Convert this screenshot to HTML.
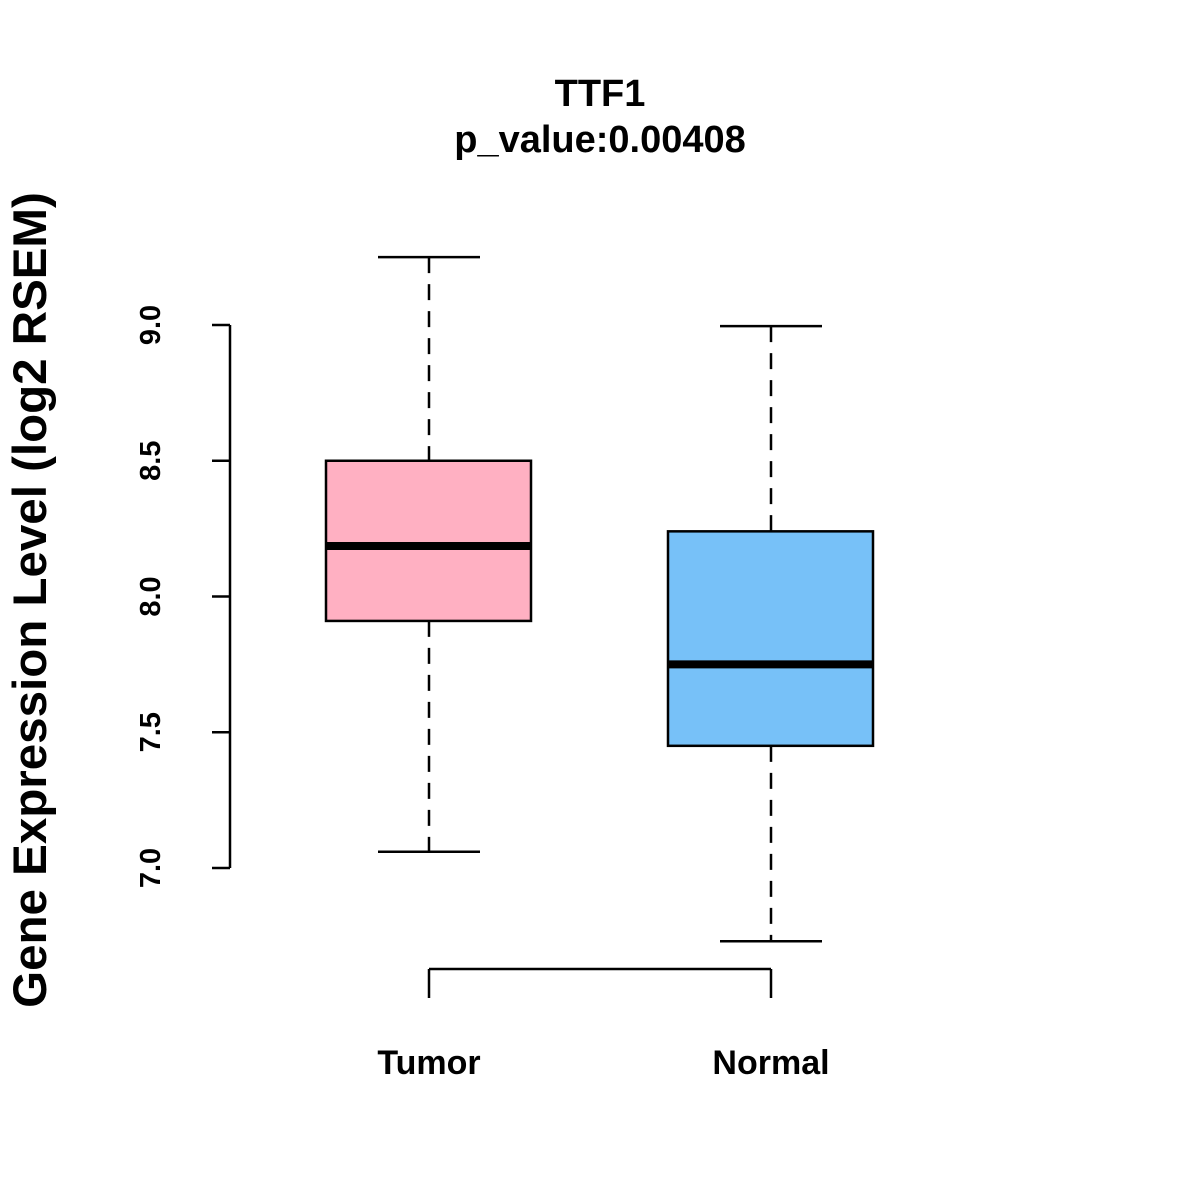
<!DOCTYPE html>
<html><head><meta charset="utf-8"><style>body{margin:0;background:#fff}svg{display:block}text{font-family:"Liberation Sans",Arial,sans-serif;font-weight:bold}</style></head>
<body>
<svg id="chart" width="1200" height="1200" viewBox="0 0 1200 1200">
<text x="600" y="106" font-size="38" text-anchor="middle">TTF1</text>
<text x="600" y="152" font-size="38" text-anchor="middle">p_value:0.00408</text>
<text transform="translate(46,600) rotate(-90)" font-size="47.5" text-anchor="middle">Gene Expression Level (log2 RSEM)</text>
<g id="plot"></g>
</svg>
<script>
const categories = ["Tumor", "Normal"];
const fills = ["#FFB0C2", "#77C1F8"];
const whiskerLow = [7.06, 6.73];
const q1 = [7.91, 7.45];
const medians = [8.186, 7.75];
const q3 = [8.5, 8.24];
const whiskerHigh = [9.25, 8.996];
const yTicks = [7.0, 7.5, 8.0, 8.5, 9.0];
const yTickLabels = ["7.0", "7.5", "8.0", "8.5", "9.0"];

const NS = "http://www.w3.org/2000/svg";
const g = document.getElementById("plot");
function y(v){ return 325 + (9.0 - v) * 271.5; }
function x(i){ return 429 + i * 342; }
function el(tag, attrs){ const e = document.createElementNS(NS, tag); for (const k in attrs) e.setAttribute(k, attrs[k]); g.appendChild(e); return e; }

let a = el("line", {x1:230, x2:230, y1:y(yTicks[0]), y2:y(yTicks[yTicks.length-1]), stroke:"#000", "stroke-width":2.5});


yTicks.forEach((t, i) => {
  const tk = el("line", {x1:212, x2:230, y1:y(t), y2:y(t), stroke:"#000", "stroke-width":2.5});
  
  
  const lb = el("text", {transform:`translate(160,${y(t)}) rotate(-90)`, "font-size":29, "text-anchor":"middle"});
  lb.textContent = yTickLabels[i];
  
  
});
a = el("line", {x1:x(0), x2:x(categories.length-1), y1:969, y2:969, stroke:"#000", "stroke-width":2.5});


categories.forEach((c, i) => {
  const cx = x(i);
  const tk = el("line", {x1:cx, x2:cx, y1:969, y2:998, stroke:"#000", "stroke-width":2.5});
  
  
  const lb = el("text", {x:cx, y:1074, "font-size":34, "text-anchor":"middle"});
  lb.textContent = c;
  
  
  const w1 = el("line", {x1:cx, x2:cx, y1:y(whiskerHigh[i]), y2:y(q3[i]), stroke:"#000", "stroke-width":2.5, "stroke-dasharray":"16,11"});
  
  
  const w2 = el("line", {x1:cx, x2:cx, y1:y(q1[i]), y2:y(whiskerLow[i]), stroke:"#000", "stroke-width":2.5, "stroke-dasharray":"16,11"});
  
  
  const c1 = el("line", {x1:cx-51, x2:cx+51, y1:y(whiskerHigh[i]), y2:y(whiskerHigh[i]), stroke:"#000", "stroke-width":2.5});
  
  
  const c2 = el("line", {x1:cx-51, x2:cx+51, y1:y(whiskerLow[i]), y2:y(whiskerLow[i]), stroke:"#000", "stroke-width":2.5});
  
  
  const b = el("rect", {x:cx-103, y:y(q3[i]), width:205, height:y(q1[i])-y(q3[i]), fill:fills[i], stroke:"#000", "stroke-width":2.5});
  
  
  const m = el("line", {x1:cx-103, x2:cx+102, y1:y(medians[i]), y2:y(medians[i]), stroke:"#000", "stroke-width":8});
  
  
});
</script>
</body></html>
